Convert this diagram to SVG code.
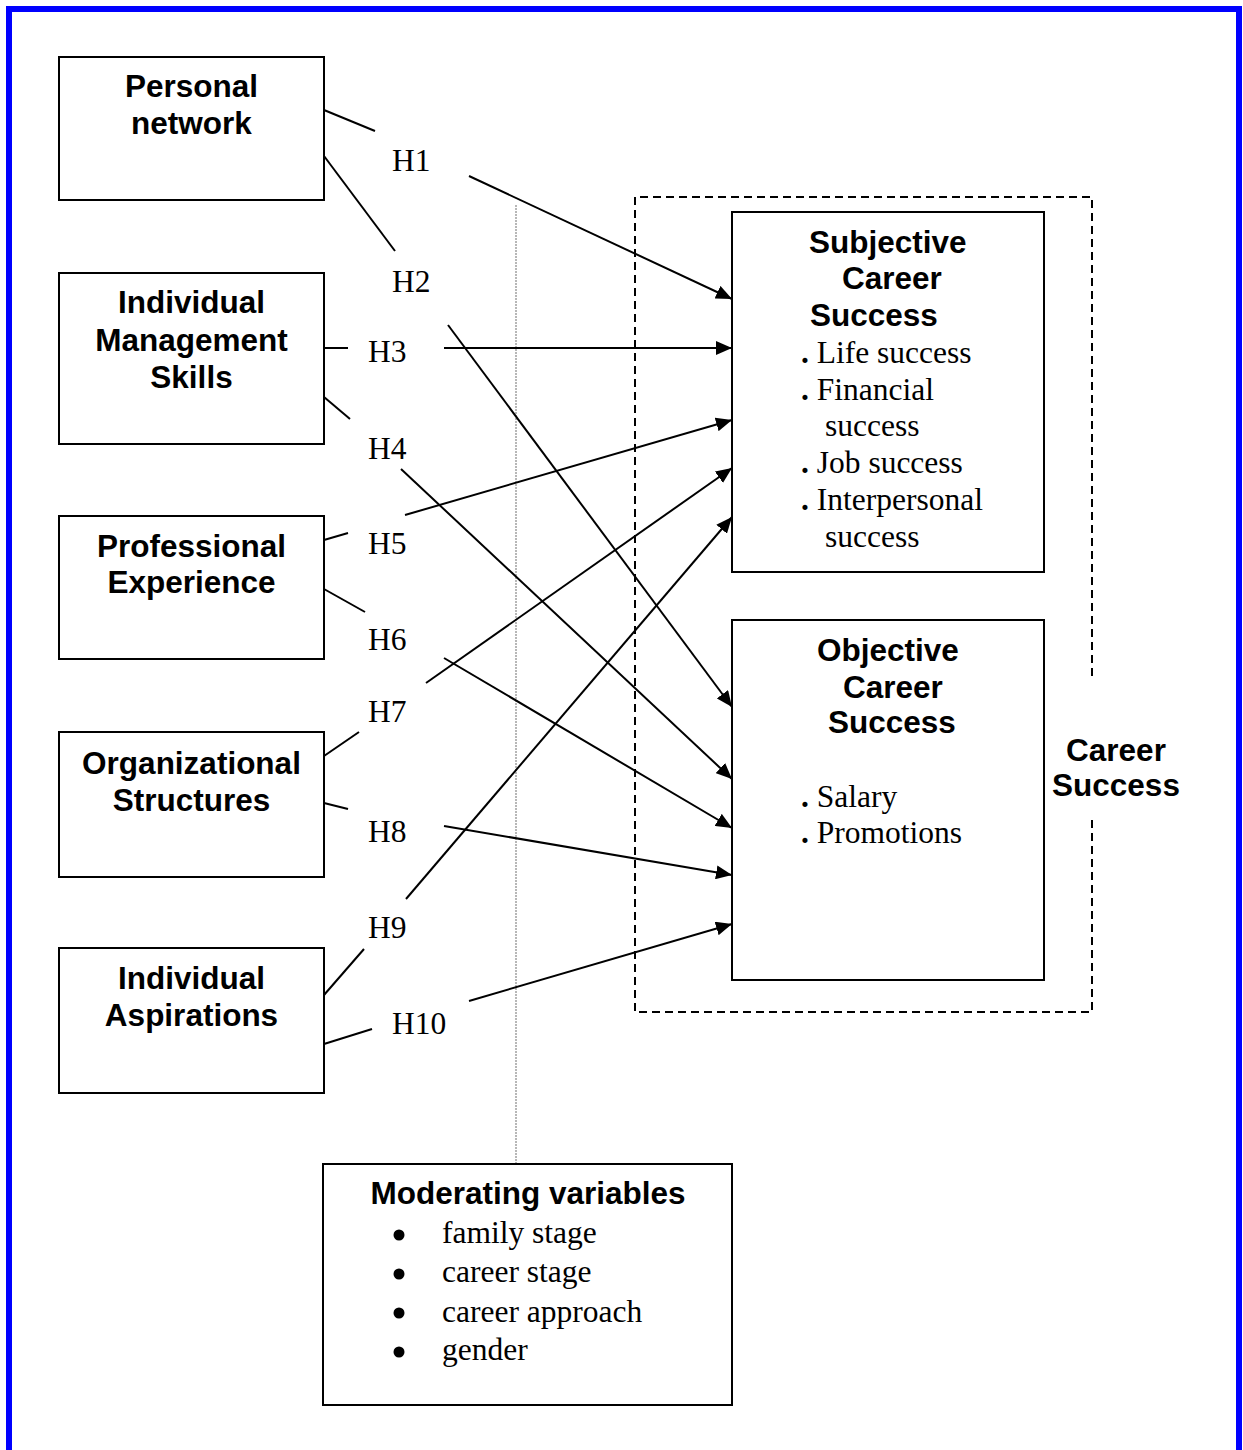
<svg xmlns="http://www.w3.org/2000/svg" width="1243" height="1450" viewBox="0 0 1243 1450">
  <style>
    .box { fill: #ffffff; stroke: #000000; stroke-width: 2; }
    .title { font-family: "Liberation Sans", Arial, Helvetica, sans-serif; font-weight: bold; font-size: 31.5px; fill: #000000; }
    .mid { text-anchor: middle; }
    .body { font-family: "Liberation Serif", "Times New Roman", Times, serif; font-size: 31.5px; fill: #000000; }
    .dot { font-weight: bold; }
    .conn { fill: none; stroke: #000000; stroke-width: 2; }
    .arrow { marker-end: url(#head); }
  </style>
  <defs>
    <marker id="head" markerUnits="userSpaceOnUse" markerWidth="16" markerHeight="14" refX="16" refY="7" orient="auto">
      <path d="M0,0 L16,7 L0,14 Z" fill="#000000"/>
    </marker>
  </defs>

  <rect width="1243" height="1450" fill="#ffffff"/>

  <!-- outer blue frame, open at the bottom -->
  <rect x="9" y="9" width="1230" height="1500" fill="none" stroke="#0000ff" stroke-width="6"/>

  <!-- grey dotted guide down to the moderating variables -->
  <line x1="516" y1="205" x2="516" y2="1164" stroke="#a0a0a0" stroke-width="1.5" stroke-dasharray="2 1"/>

  <!-- dashed Career Success enclosure, with a gap for its label -->
  <path d="M1092,676 V197 H635 V1012 H1092 V820" fill="none" stroke="#000000" stroke-width="2" stroke-dasharray="8 5"/>

  <g id="connectors">
    <!-- H1 -->
    <line class="conn" x1="324" y1="110" x2="375" y2="131"/>
    <line class="conn arrow" x1="469" y1="176" x2="732" y2="299"/>
    <!-- H2 -->
    <line class="conn" x1="324" y1="156" x2="395" y2="251"/>
    <line class="conn arrow" x1="448" y1="325" x2="732" y2="707"/>
    <!-- H3 -->
    <line class="conn" x1="324" y1="348" x2="348" y2="348"/>
    <line class="conn arrow" x1="444" y1="348" x2="732" y2="348"/>
    <!-- H4 -->
    <line class="conn" x1="324" y1="397" x2="350" y2="419"/>
    <line class="conn arrow" x1="401" y1="469" x2="732" y2="779"/>
    <!-- H5 -->
    <line class="conn" x1="324" y1="540" x2="348" y2="533"/>
    <line class="conn arrow" x1="405" y1="515" x2="732" y2="420"/>
    <!-- H6 -->
    <line class="conn" x1="324" y1="589" x2="365" y2="612"/>
    <line class="conn arrow" x1="444" y1="658" x2="732" y2="828"/>
    <!-- H7 -->
    <line class="conn" x1="324" y1="756" x2="359" y2="732"/>
    <line class="conn arrow" x1="426" y1="683" x2="732" y2="468"/>
    <!-- H8 -->
    <line class="conn" x1="324" y1="803" x2="348" y2="809"/>
    <line class="conn arrow" x1="444" y1="826" x2="732" y2="875"/>
    <!-- H9 -->
    <line class="conn" x1="324" y1="995" x2="364" y2="949"/>
    <line class="conn arrow" x1="406" y1="899" x2="732" y2="517"/>
    <!-- H10 -->
    <line class="conn" x1="324" y1="1044" x2="372" y2="1029"/>
    <line class="conn arrow" x1="469" y1="1001" x2="732" y2="924"/>

    <!-- hypothesis labels -->
    <text class="body" x="392" y="171">H1</text>
    <text class="body" x="392" y="292">H2</text>
    <text class="body" x="368" y="362">H3</text>
    <text class="body" x="368" y="459">H4</text>
    <text class="body" x="368" y="554">H5</text>
    <text class="body" x="368" y="650">H6</text>
    <text class="body" x="368" y="722">H7</text>
    <text class="body" x="368" y="842">H8</text>
    <text class="body" x="368" y="938">H9</text>
    <text class="body" x="392" y="1034">H10</text>
  </g>

  <g id="personal-network">
    <rect class="box" x="59" y="57" width="265" height="143"/>
    <text class="title mid" x="191.5" y="97">Personal</text>
    <text class="title mid" x="191.5" y="134">network</text>
  </g>

  <g id="individual-management-skills">
    <rect class="box" x="59" y="273" width="265" height="171"/>
    <text class="title mid" x="191.5" y="313">Individual</text>
    <text class="title mid" x="191.5" y="350.5">Management</text>
    <text class="title mid" x="191.5" y="388">Skills</text>
  </g>

  <g id="professional-experience">
    <rect class="box" x="59" y="516" width="265" height="143"/>
    <text class="title mid" x="191.5" y="556.5">Professional</text>
    <text class="title mid" x="191.5" y="593">Experience</text>
  </g>

  <g id="organizational-structures">
    <rect class="box" x="59" y="732" width="265" height="145"/>
    <text class="title mid" x="191.5" y="774">Organizational</text>
    <text class="title mid" x="191.5" y="811">Structures</text>
  </g>

  <g id="individual-aspirations">
    <rect class="box" x="59" y="948" width="265" height="145"/>
    <text class="title mid" x="191.5" y="989">Individual</text>
    <text class="title mid" x="191.5" y="1026">Aspirations</text>
  </g>

  <g id="subjective-career-success">
    <rect class="box" x="732" y="212" width="312" height="360"/>
    <text class="title" x="809" y="253">Subjective</text>
    <text class="title" x="842" y="289">Career</text>
    <text class="title" x="810" y="326">Success</text>
    <text class="body" x="801" y="363"><tspan class="dot">.</tspan> Life success</text>
    <text class="body" x="801" y="400"><tspan class="dot">.</tspan> Financial</text>
    <text class="body" x="825" y="436">success</text>
    <text class="body" x="801" y="473"><tspan class="dot">.</tspan> Job success</text>
    <text class="body" x="801" y="510"><tspan class="dot">.</tspan> Interpersonal</text>
    <text class="body" x="825" y="547">success</text>
  </g>

  <g id="objective-career-success">
    <rect class="box" x="732" y="620" width="312" height="360"/>
    <text class="title" x="817" y="661">Objective</text>
    <text class="title" x="843" y="698">Career</text>
    <text class="title" x="828" y="733">Success</text>
    <text class="body" x="801" y="807"><tspan class="dot">.</tspan> Salary</text>
    <text class="body" x="801" y="843"><tspan class="dot">.</tspan> Promotions</text>
  </g>

  <g id="career-success-label">
    <text class="title mid" x="1116" y="761">Career</text>
    <text class="title mid" x="1116" y="796">Success</text>
  </g>

  <g id="moderating-variables">
    <rect class="box" x="323" y="1164" width="409" height="241"/>
    <text class="title mid" x="528" y="1204">Moderating variables</text>
    <circle cx="399" cy="1235" r="5.5"/>
    <circle cx="399" cy="1274" r="5.5"/>
    <circle cx="399" cy="1313" r="5.5"/>
    <circle cx="399" cy="1352" r="5.5"/>
    <text class="body" x="442" y="1243">family stage</text>
    <text class="body" x="442" y="1282">career stage</text>
    <text class="body" x="442" y="1322">career approach</text>
    <text class="body" x="442" y="1360">gender</text>
  </g>
</svg>
